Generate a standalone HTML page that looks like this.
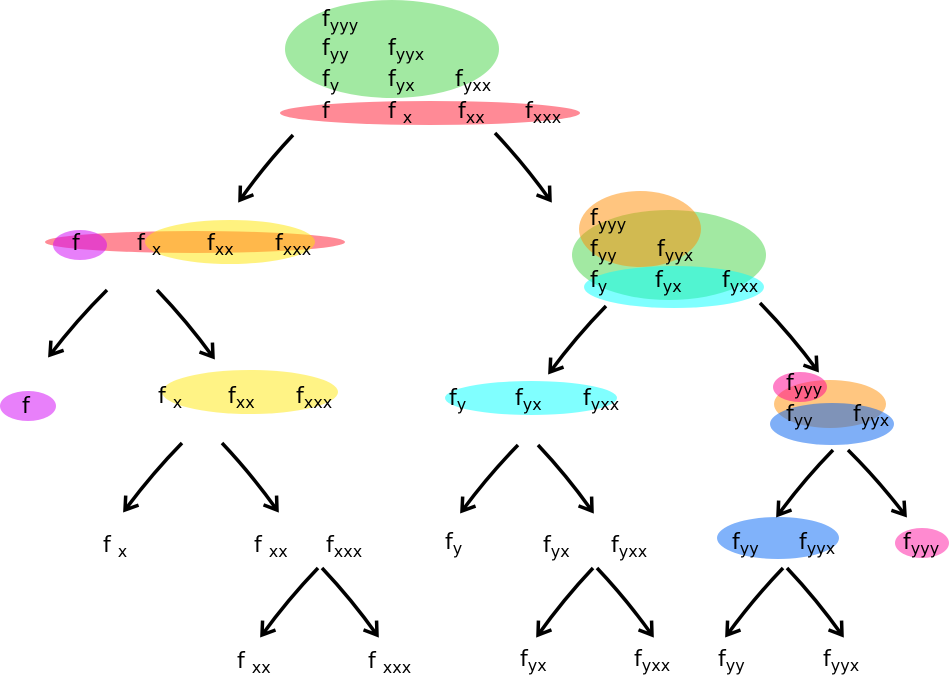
<!DOCTYPE html>
<html><head><meta charset="utf-8"><style>
html,body{margin:0;padding:0;background:#fff}
svg{display:block}
text{font-family:"DejaVu Sans","Liberation Sans",sans-serif;font-size:22px;fill:#000}
tspan.s{font-size:16px}
</style></head><body>
<svg width="950" height="676" viewBox="0 0 950 676">
<defs>
<marker id="ah" markerWidth="20" markerHeight="20" refX="14" refY="10" orient="auto" markerUnits="userSpaceOnUse">
<path d="M2,2 L14,10 L2,18" fill="none" stroke="#000" stroke-width="3.5"/>
</marker>
</defs>
<g id="ellipses">
<ellipse cx="392" cy="49" rx="107" ry="49" fill="#a2e9a2"/>
<ellipse cx="430" cy="113" rx="150" ry="12" fill="#ff8a96"/>
<ellipse cx="195" cy="242" rx="150" ry="11" fill="#ff8a96"/>
<ellipse cx="230" cy="242" rx="85" ry="22" fill="#ffe600" fill-opacity="0.5"/>
<ellipse cx="80" cy="245" rx="27" ry="15" fill="#d000f5" fill-opacity="0.5"/>
<ellipse cx="669" cy="255" rx="97" ry="45" fill="#a2e9a2"/>
<ellipse cx="640" cy="229" rx="61" ry="38" fill="#ff8c00" fill-opacity="0.5"/>
<ellipse cx="674" cy="287" rx="90" ry="21" fill="#00ffff" fill-opacity="0.5"/>
<ellipse cx="28" cy="406" rx="28" ry="15" fill="#e880fa"/>
<ellipse cx="250" cy="392" rx="88" ry="22" fill="#fff385"/>
<ellipse cx="531" cy="398" rx="86" ry="17" fill="#80ffff"/>
<ellipse cx="830" cy="404" rx="56" ry="24" fill="#ffc680"/>
<ellipse cx="800" cy="387" rx="27" ry="15" fill="#ff0090" fill-opacity="0.5"/>
<ellipse cx="832" cy="424" rx="62" ry="21" fill="#0060f0" fill-opacity="0.5"/>
<ellipse cx="778" cy="538" rx="61" ry="21" fill="#80b2fa"/>
<ellipse cx="922" cy="543" rx="27" ry="15" fill="#ff8ad0"/>
</g>
<g id="labels">
<text x="322" y="26">f<tspan class="s" dy="5">yyy</tspan></text>
<text x="322" y="55">f<tspan class="s" dy="5">yy</tspan></text>
<text x="388" y="55">f<tspan class="s" dy="5">yyx</tspan></text>
<text x="322" y="86">f<tspan class="s" dy="5">y</tspan></text>
<text x="388" y="86">f<tspan class="s" dy="5">yx</tspan></text>
<text x="455" y="86">f<tspan class="s" dy="5">yxx</tspan></text>
<text x="322" y="118">f</text>
<text x="388" y="118">f <tspan class="s" dy="5">x</tspan></text>
<text x="458" y="118">f<tspan class="s" dy="5">xx</tspan></text>
<text x="525" y="118">f<tspan class="s" dy="5">xxx</tspan></text>

<text x="72" y="250">f</text>
<text x="137" y="250">f <tspan class="s" dy="5">x</tspan></text>
<text x="207" y="250">f<tspan class="s" dy="5">xx</tspan></text>
<text x="275" y="250">f<tspan class="s" dy="5">xxx</tspan></text>

<text x="590" y="225">f<tspan class="s" dy="5">yyy</tspan></text>
<text x="590" y="256">f<tspan class="s" dy="5">yy</tspan></text>
<text x="657" y="256">f<tspan class="s" dy="5">yyx</tspan></text>
<text x="590" y="287">f<tspan class="s" dy="5">y</tspan></text>
<text x="655" y="287">f<tspan class="s" dy="5">yx</tspan></text>
<text x="722" y="287">f<tspan class="s" dy="5">yxx</tspan></text>

<text x="22" y="413">f</text>
<text x="158" y="403">f <tspan class="s" dy="5">x</tspan></text>
<text x="228" y="403">f<tspan class="s" dy="5">xx</tspan></text>
<text x="296" y="403">f<tspan class="s" dy="5">xxx</tspan></text>
<text x="449" y="405">f<tspan class="s" dy="5">y</tspan></text>
<text x="515" y="405">f<tspan class="s" dy="5">yx</tspan></text>
<text x="583" y="405">f<tspan class="s" dy="5">yxx</tspan></text>
<text x="786" y="390">f<tspan class="s" dy="5">yyy</tspan></text>
<text x="786" y="421">f<tspan class="s" dy="5">yy</tspan></text>
<text x="853" y="421">f<tspan class="s" dy="5">yyx</tspan></text>

<text x="103" y="552">f <tspan class="s" dy="5">x</tspan></text>
<text x="254" y="552">f <tspan class="s" dy="5">xx</tspan></text>
<text x="326" y="552">f<tspan class="s" dy="5">xxx</tspan></text>
<text x="445" y="549">f<tspan class="s" dy="5">y</tspan></text>
<text x="543" y="552">f<tspan class="s" dy="5">yx</tspan></text>
<text x="611" y="552">f<tspan class="s" dy="5">yxx</tspan></text>
<text x="732" y="549">f<tspan class="s" dy="5">yy</tspan></text>
<text x="799" y="549">f<tspan class="s" dy="5">yyx</tspan></text>
<text x="903" y="549">f<tspan class="s" dy="5">yyy</tspan></text>

<text x="237" y="668">f <tspan class="s" dy="5">xx</tspan></text>
<text x="368" y="668">f <tspan class="s" dy="5">xxx</tspan></text>
<text x="520" y="666">f<tspan class="s" dy="5">yx</tspan></text>
<text x="634" y="666">f<tspan class="s" dy="5">yxx</tspan></text>
<text x="718" y="666">f<tspan class="s" dy="5">yy</tspan></text>
<text x="823" y="666">f<tspan class="s" dy="5">yyx</tspan></text>
</g>
<g id="arrows" fill="none" stroke="#000" stroke-width="3.5"></g>
</svg>
<script>
const arrowStarts = [[293,135],[495,133],[107,290],[157,290],[606,306],[760,303],[182,443],[222,443],[518,445],[538,445],[833,450],[848,450],[318,568],[322,568],[593,568],[597,568],[783,568],[787,568]];
const arrowEnds = [[240,200],[550,200],[50,355],[213,357],[550,372],[817,370],[125,510],[277,510],[462,511],[592,511],[778,515],[905,515],[262,635],[377,635],[538,635],[652,635],[727,635],[842,635]];
const g = document.getElementById('arrows');
arrowStarts.forEach(function(s, i){
  const e = arrowEnds[i];
  const dx = e[0]-s[0], dy = e[1]-s[1];
  const len = Math.sqrt(dx*dx+dy*dy);
  const sign = dx < 0 ? -1 : 1;
  const nx = sign*dy/len*3, ny = -Math.abs(dx)/len*3;
  const cx = s[0] + dx*0.5 + nx, cy = s[1] + dy*0.5 + ny;
  const p = document.createElementNS('http://www.w3.org/2000/svg','path');
  p.setAttribute('d','M'+s[0]+','+s[1]+' Q'+cx+','+cy+' '+e[0]+','+e[1]);
  p.setAttribute('marker-end','url(#ah)');
  
  
  g.appendChild(p);
});
</script>
</body></html>
